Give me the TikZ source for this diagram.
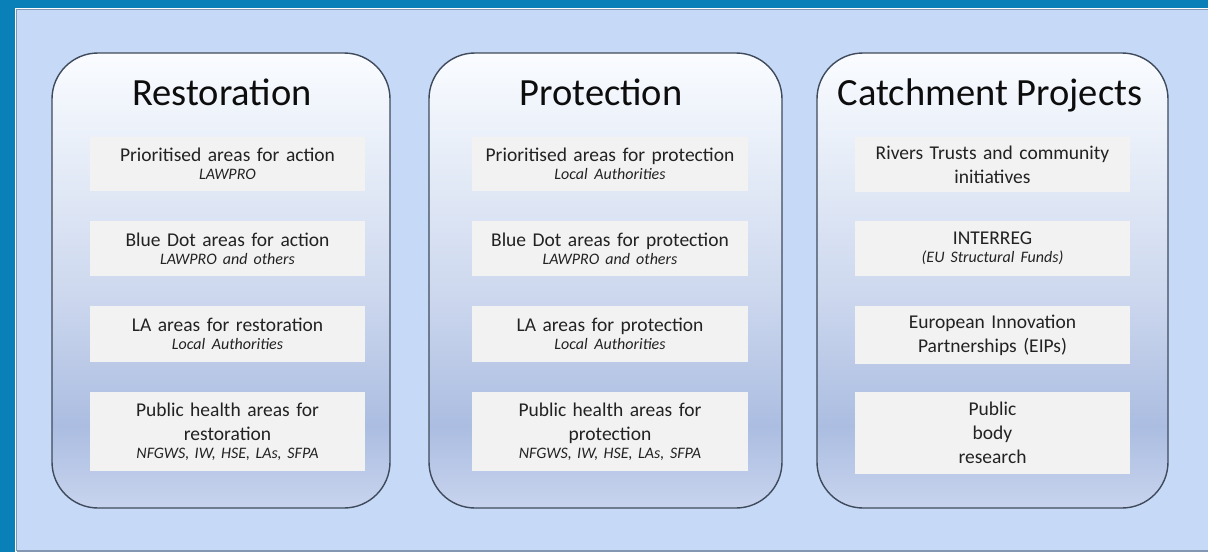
\documentclass[tikz,border=0pt]{standalone}
\usepackage{fontspec}
\setmainfont{Carlito}
\definecolor{frameblue}{HTML}{0A80B9}
\definecolor{bglight}{HTML}{C6DAF7}
\definecolor{bgline}{HTML}{8497B2}
\definecolor{panelline}{HTML}{3F4A5C}
\definecolor{boxfill}{HTML}{F2F2F2}
\definecolor{titletext}{HTML}{0D0D0D}
\definecolor{bodytext}{HTML}{222222}
\definecolor{pt}{HTML}{FAFCFF}
\definecolor{pl}{HTML}{E4EBF7}
\definecolor{pm}{HTML}{CCD7EE}
\definecolor{pd}{HTML}{ABBDE1}
\definecolor{pb}{HTML}{C8D4EE}
\pgfdeclareverticalshading{panelshade}{100bp}{color(0bp)=(pb); color(25bp)=(pb); color(34bp)=(pd); color(48bp)=(pm); color(62bp)=(pl); color(75bp)=(pt); color(100bp)=(pt)}
\tikzset{
  panel/.style={draw=panelline, line width=1.4pt, rounded corners=46pt, shading=panelshade, inner sep=0pt},
  paneltitle/.style={anchor=base, text=titletext, font=\fontsize{38.5}{44}\selectfont, inner sep=0pt},
  itembox/.style={fill=boxfill, draw=none, inner xsep=0pt, inner ysep=0pt, align=center, text=bodytext, font=\fontsize{19.5}{24}\selectfont}
}
\newcommand{\subtxt}[1]{{\fontsize{16}{18}\selectfont\itshape\spaceskip=0.24em plus 0.08em minus 0.04em #1}}
\begin{document}
\begin{tikzpicture}[x=1pt,y=-1pt]
\useasboundingbox (0,0) rectangle (1208,552);
\fill[frameblue] (0,0) rectangle (1208,552);
\fill[white] (15,7.5) rectangle (1208,552);
\fill[bglight] (16.5,9.5) rectangle (1208,550.5);
\draw[bgline, line width=1pt] (1208,9.5) -- (16.5,9.5) -- (16.5,550.5) -- (1208,550.5);
\draw[bgline, line width=1.5pt] (16.5,551) -- (1208,551);
% panels
\node[panel, minimum width=338pt, minimum height=455pt] (rp) at (221,280.5) {};
\node[panel, minimum width=353pt, minimum height=455pt] (pp) at (605.5,280.5) {};
\node[panel, minimum width=351pt, minimum height=455pt] (cp) at (992.5,280.5) {};
% titles
\node[paneltitle] (rt) at (222,105) {Restoration};
\node[paneltitle] (pt) at (601,105) {Protection};
\node[paneltitle] (ct) at (990,105) {Catchment Projects};
% restoration boxes
\node[itembox, text width=275pt, minimum height=54pt] (r1) at (227.5,164) {Prioritised areas for action\\[-6pt]\subtxt{LAWPRO}};
\node[itembox, text width=275pt, minimum height=55pt] (r2) at (227.5,248.5) {Blue Dot areas for action\\[-6pt]\subtxt{LAWPRO and others}};
\node[itembox, text width=275pt, minimum height=56pt] (r3) at (227.5,334) {LA areas for restoration\\[-6pt]\subtxt{Local Authorities}};
\node[itembox, text width=275pt, minimum height=79pt] (r4) at (227.5,431.5) {Public health areas for\\restoration\\[-6pt]\subtxt{NFGWS, IW, HSE, LAs, SFPA}};
% protection boxes
\node[itembox, text width=276pt, minimum height=54pt] (p1) at (610,164) {Prioritised areas for protection\\[-6pt]\subtxt{Local Authorities}};
\node[itembox, text width=276pt, minimum height=55pt] (p2) at (610,248.5) {Blue Dot areas for protection\\[-6pt]\subtxt{LAWPRO and others}};
\node[itembox, text width=276pt, minimum height=56pt] (p3) at (610,334) {LA areas for protection\\[-6pt]\subtxt{Local Authorities}};
\node[itembox, text width=276pt, minimum height=79pt] (p4) at (610,431.5) {Public health areas for\\protection\\[-6pt]\subtxt{NFGWS, IW, HSE, LAs, SFPA}};
% catchment boxes
\node[itembox, text width=275pt, minimum height=55pt] (c1) at (992.5,164.5) {Rivers Trusts and community\\initiatives};
\node[itembox, text width=275pt, minimum height=55pt] (c2) at (992.5,248.5) {INTERREG\\[-6pt]\subtxt{(EU Structural Funds)}};
\node[itembox, text width=275pt, minimum height=58pt] (c3) at (992.5,335) {European Innovation\\Partnerships (EIPs)};
\node[itembox, text width=275pt, minimum height=82pt] (c4) at (992.5,432.5) {Public\\body\\research};
\end{tikzpicture}
\end{document}
